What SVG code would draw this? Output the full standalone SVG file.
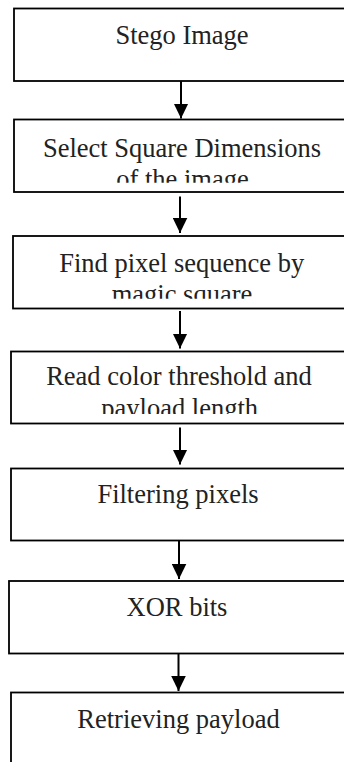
<svg xmlns="http://www.w3.org/2000/svg" width="344" height="762" viewBox="0 0 344 762">
  <style>
    .box { fill: #ffffff; stroke: #000000; stroke-width: 1.8; }
    .lbl { font-family: "Liberation Serif", "Times New Roman", serif; font-size: 26.5px; fill: #222222; text-anchor: middle; }
    .conn { stroke: #000000; stroke-width: 2; fill: none; marker-end: url(#arrow); }
  </style>
  <defs>
    <marker id="arrow" markerUnits="userSpaceOnUse" viewBox="0 0 15 15" refX="15" refY="7.5" markerWidth="15" markerHeight="15" orient="auto">
      <path d="M0,0.2 L15,7.5 L0,14.8 z" fill="#000000"/>
    </marker>
    <clipPath id="clip2"><rect x="0" y="119" width="344" height="63.7"/></clipPath>
    <clipPath id="clip3"><rect x="0" y="236" width="344" height="62.7"/></clipPath>
    <clipPath id="clip4"><rect x="0" y="351" width="344" height="63"/></clipPath>
  </defs>
  <rect width="344" height="762" fill="#ffffff"/>

  <g id="node1">
    <rect class="box" x="14" y="8.5" width="340" height="72.5"/>
    <text class="lbl" x="182" y="44.3">Stego Image</text>
  </g>
  <g id="node2">
    <rect class="box" x="14" y="119.5" width="340" height="72.5"/>
    <g clip-path="url(#clip2)">
      <text class="lbl" x="182" y="156.7">Select Square Dimensions</text>
      <text class="lbl" x="182.5" y="188">of the image</text>
    </g>
  </g>
  <g id="node3">
    <rect class="box" x="13" y="236" width="340" height="72.5"/>
    <g clip-path="url(#clip3)">
      <text class="lbl" x="181.7" y="271.7">Find pixel sequence by</text>
      <text class="lbl" x="182" y="302.5">magic square</text>
    </g>
  </g>
  <g id="node4">
    <rect class="box" x="11" y="351.5" width="340" height="72"/>
    <g clip-path="url(#clip4)">
      <text class="lbl" x="179" y="384.5">Read color threshold and</text>
      <text class="lbl" x="179.7" y="416.5">payload length</text>
    </g>
  </g>
  <g id="node5">
    <rect class="box" x="11" y="468.5" width="340" height="72"/>
    <text class="lbl" x="178" y="503">Filtering pixels</text>
  </g>
  <g id="node6">
    <rect class="box" x="9" y="581" width="340" height="72.5"/>
    <text class="lbl" x="177" y="616">XOR bits</text>
  </g>
  <g id="node7">
    <rect class="box" x="11" y="692.5" width="340" height="90"/>
    <text class="lbl" x="178.5" y="728.3">Retrieving payload</text>
  </g>

  <g id="connectors">
    <line class="conn" x1="181" y1="81" x2="181" y2="118.5"/>
    <line class="conn" x1="180" y1="196.5" x2="180" y2="233"/>
    <line class="conn" x1="180" y1="311" x2="180" y2="348.5"/>
    <line class="conn" x1="180" y1="427.5" x2="180" y2="464.5"/>
    <line class="conn" x1="179" y1="541" x2="179" y2="579"/>
    <line class="conn" x1="178.5" y1="654" x2="178.5" y2="691"/>
  </g>
</svg>
